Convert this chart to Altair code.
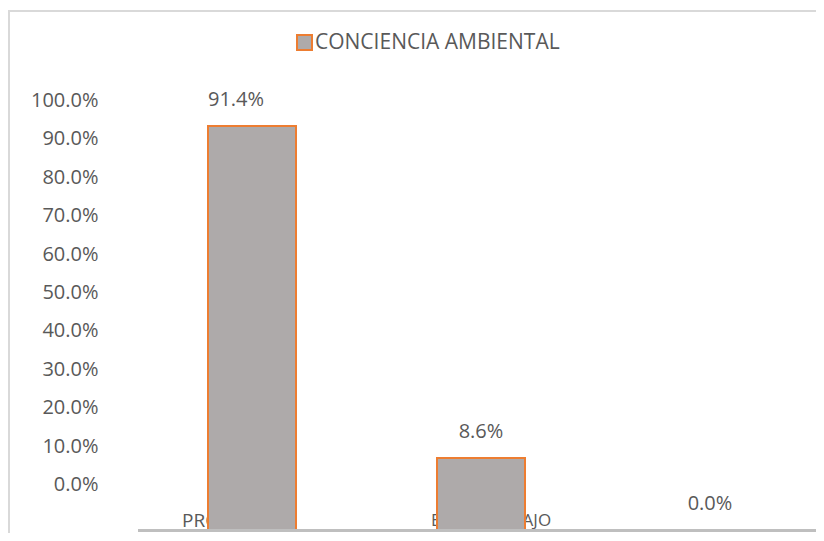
import altair as alt
import pandas as pd

# ---- data ----
CATEGORIES = ["PROCESO", "BUEN TRABAJO", " "]
VALUES = [0.914, 0.086, 0.0]
SERIES = "CONCIENCIA AMBIENTAL"
Y_TICKS = [0.0, 0.1, 0.2, 0.3, 0.4, 0.5, 0.6, 0.7, 0.8, 0.9, 1.0]

df = pd.DataFrame({"cat": CATEGORIES, "value": VALUES, "series": [SERIES] * len(CATEGORIES)})

FONT = "Open Sans"
TXT = "#595959"
W, H = 808, 523

x_scale = alt.Scale(domain=CATEGORIES, range=[129.5, 816.5], paddingInner=0, paddingOuter=0)
bar_scale = alt.Scale(type="pow", exponent=0.73, domain=[0, 1.2916], range=[520, 0])
axis_scale = alt.Scale(type="linear", domain=[-0.1247, 1.2338], range=[H, 0], nice=False, zero=False)

x_axis = alt.Axis(labels=False, ticks=False, title=None, grid=False,
                  domainColor="#BFBFBF", domainWidth=3, offset=-3, zindex=1)
x_enc = alt.X("cat:N", sort=CATEGORIES, scale=x_scale, axis=x_axis)

base = alt.Chart(df)

# frame (top and left edges visible in the reference)
frame_top = base.mark_rule(color="#D9D9D9", strokeWidth=2).encode(
    x=alt.value(0), x2=alt.value(W), y=alt.value(1))
frame_left = base.mark_rule(color="#D9D9D9", strokeWidth=2).encode(
    x=alt.value(1), y=alt.value(0), y2=alt.value(H))

# category labels (drawn behind the bars)
lab1 = base.transform_filter(alt.datum.cat == CATEGORIES[0]).mark_text(
    align="left", baseline="middle", dx=-70, dy=-9, font=FONT, fontSize=19, color=TXT
).encode(x=x_enc, y=alt.YDatum(0, scale=bar_scale, axis=None), text="cat:N")

lab2 = base.transform_filter(alt.datum.cat == CATEGORIES[1]).mark_text(
    align="left", baseline="middle", dx=-50, dy=-9, font=FONT, fontSize=17, color=TXT
).encode(x=x_enc, y=alt.YDatum(0, scale=bar_scale, axis=None), text="cat:N")

bars = base.mark_bar(size=88, stroke="#ED7D31", strokeWidth=2).encode(
    x=x_enc,
    y=alt.Y("value:Q", scale=bar_scale, axis=None),
    color=alt.Color("series:N", scale=alt.Scale(domain=[SERIES], range=["#AEAAAA"]),
                    legend=alt.Legend(orient="none", legendX=286, legendY=22, title=None,
                                      symbolType="square", symbolSize=225,
                                      symbolStrokeColor="#ED7D31", symbolStrokeWidth=2,
                                      labelFont=FONT, labelFontSize=21, labelColor=TXT,
                                      labelOffset=0, labelLimit=0, padding=0)),
)

vlabel_first = base.transform_filter(alt.datum.cat == CATEGORIES[0]).mark_text(
    baseline="middle", dx=-16, dy=-26, font=FONT, fontSize=20, color=TXT
).encode(
    x=x_enc,
    y=alt.Y("value:Q", scale=bar_scale, axis=None),
    text=alt.Text("value:Q", format=".1%"),
)

vlabels_rest = base.transform_filter(alt.datum.cat != CATEGORIES[0]).mark_text(
    baseline="middle", dy=-26, font=FONT, fontSize=20, color=TXT
).encode(
    x=x_enc,
    y=alt.Y("value:Q", scale=bar_scale, axis=None),
    text=alt.Text("value:Q", format=".1%"),
)

yaxis = base.mark_point(opacity=0).encode(
    y=alt.Y("value:Q", scale=axis_scale,
            axis=alt.Axis(orient="left", values=Y_TICKS, format=".1%", title=None,
                          ticks=False, domain=False, grid=False, labelPadding=0,
                          offset=-90, labelFont=FONT, labelFontSize=20, labelColor=TXT)),
)

chart = alt.layer(frame_top, frame_left, lab1, lab2, bars, vlabel_first, vlabels_rest, yaxis).resolve_scale(
    y="independent"
).properties(
    width=W, height=H,
    autosize=alt.AutoSizeParams(type="none"),
    padding={"left": 0, "top": 2, "right": 0, "bottom": 0},
).configure_view(stroke=None).configure(background="white")

chart.save("out.html", embed_options={"renderer": "svg", "actions": False})
